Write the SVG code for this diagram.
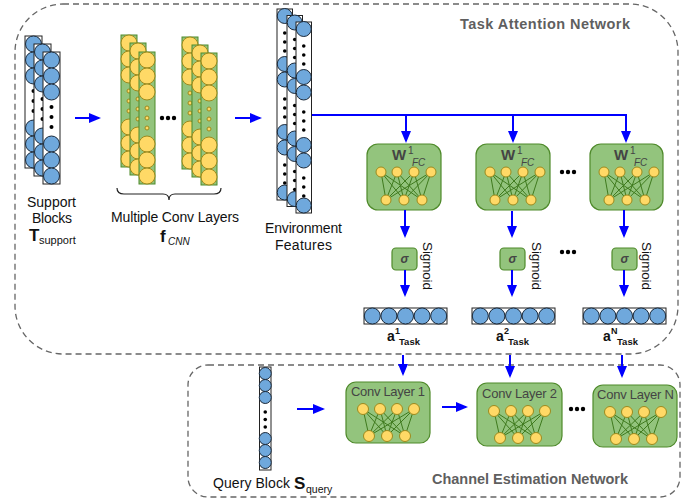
<svg xmlns="http://www.w3.org/2000/svg" xmlns:xlink="http://www.w3.org/1999/xlink" width="699" height="501" viewBox="0 0 699 501">
<style>
text{font-family:"Liberation Sans",Arial,sans-serif;fill:#111}
.frame{fill:none;stroke:#666;stroke-width:1.3;stroke-dasharray:6 4}
.ttl{font-weight:bold;font-size:14.5px;fill:#5f5f5f}
.lbl{font-size:14px}
.blk{fill:#fff;stroke:#222;stroke-width:1}
.bc{fill:#6fa8dc;stroke:#1c2a3a;stroke-width:1}
.gcol{fill:#93c47d;stroke:#4f8a2b;stroke-width:1}
.yc{fill:#ffd966;stroke:#9c8a1e;stroke-width:1}
.dot{fill:#000}
.gbox{fill:#93c47d;stroke:#4f8a2b;stroke-width:1.2}
.net{stroke:#3f7a1e;stroke-width:1;fill:none}
.arr{stroke:#0000ff;stroke-width:2;fill:none;marker-end:url(#ah)}
.ln{stroke:#0000ff;stroke-width:2;fill:none}
.sig{font-size:13.5px}
.gt{fill:#444}
</style>
<defs>
<marker id="ah" markerUnits="userSpaceOnUse" markerWidth="12" markerHeight="10" refX="10" refY="5" orient="auto">
<path d="M0,0 L12,5 L0,10 z" fill="#0000ff"/>
</marker>
<g id="supcol">
<rect class="blk" x="0" y="0" width="17" height="132"/>
<circle class="bc" cx="8.5" cy="8" r="8"/>
<circle class="bc" cx="8.5" cy="24" r="8"/>
<circle class="bc" cx="8.5" cy="40" r="8"/>
<circle class="dot" cx="8.5" cy="55" r="2"/>
<circle class="dot" cx="8.5" cy="65" r="2"/>
<circle class="dot" cx="8.5" cy="75" r="2"/>
<circle class="bc" cx="8.5" cy="92" r="8"/>
<circle class="bc" cx="8.5" cy="108" r="8"/>
<circle class="bc" cx="8.5" cy="124" r="8"/>
</g>
<g id="grcol">
<rect class="gcol" x="0" y="0" width="16" height="132"/>
<circle class="yc" cx="8" cy="8" r="8"/>
<circle class="yc" cx="8" cy="24" r="8"/>
<circle class="yc" cx="8" cy="40" r="8"/>
<circle class="yc" cx="8" cy="56" r="2"/>
<circle class="yc" cx="8" cy="66" r="2"/>
<circle class="yc" cx="8" cy="76" r="2"/>
<circle class="yc" cx="8" cy="92" r="8"/>
<circle class="yc" cx="8" cy="108" r="8"/>
<circle class="yc" cx="8" cy="124" r="8"/>
</g>
<g id="envcol">
<rect class="blk" x="0" y="0" width="15.5" height="191"/>
<circle class="bc" cx="7.75" cy="7" r="7.5"/>
<circle class="dot" cx="7.75" cy="24" r="1.8"/>
<circle class="dot" cx="7.75" cy="33" r="1.8"/>
<circle class="dot" cx="7.75" cy="42" r="1.8"/>
<circle class="bc" cx="7.75" cy="55" r="7.5"/>
<circle class="bc" cx="7.75" cy="70.5" r="7.5"/>
<circle class="dot" cx="7.75" cy="90" r="1.8"/>
<circle class="dot" cx="7.75" cy="99" r="1.8"/>
<circle class="dot" cx="7.75" cy="108" r="1.8"/>
<circle class="bc" cx="7.75" cy="123" r="7.5"/>
<circle class="bc" cx="7.75" cy="138.5" r="7.5"/>
<circle class="dot" cx="7.75" cy="156" r="1.8"/>
<circle class="dot" cx="7.75" cy="165" r="1.8"/>
<circle class="dot" cx="7.75" cy="174" r="1.8"/>
<circle class="bc" cx="7.75" cy="183.5" r="7.5"/>
</g>
<g id="fcnet">
<path class="net" d="M14,28 L19,56 M14,28 L37,56 M14,28 L55,56 M30,28 L19,56 M30,28 L37,56 M30,28 L55,56 M47,28 L19,56 M47,28 L37,56 M47,28 L55,56 M64,28 L19,56 M64,28 L37,56 M64,28 L55,56"/>
<circle class="yc" cx="14" cy="28" r="5"/>
<circle class="yc" cx="30" cy="28" r="5"/>
<circle class="yc" cx="47" cy="28" r="5"/>
<circle class="yc" cx="64" cy="28" r="5"/>
<circle class="yc" cx="19" cy="56" r="5"/>
<circle class="yc" cx="37" cy="56" r="5"/>
<circle class="yc" cx="55" cy="56" r="5"/>
</g>
<g id="convnet">
<path class="net" d="M17,27 L23,54 M17,27 L41,54 M17,27 L59,54 M34,27 L23,54 M34,27 L41,54 M34,27 L59,54 M51,27 L23,54 M51,27 L41,54 M51,27 L59,54 M68,27 L23,54 M68,27 L41,54 M68,27 L59,54"/>
<circle class="yc" cx="17" cy="27" r="5.5"/>
<circle class="yc" cx="34" cy="27" r="5.5"/>
<circle class="yc" cx="51" cy="27" r="5.5"/>
<circle class="yc" cx="68" cy="27" r="5.5"/>
<circle class="yc" cx="23" cy="54" r="5.5"/>
<circle class="yc" cx="41" cy="54" r="5.5"/>
<circle class="yc" cx="59" cy="54" r="5.5"/>
</g>
<g id="vec">
<rect class="blk" x="0" y="0" width="83" height="16"/>
<circle class="bc" cx="8.3" cy="8" r="8"/>
<circle class="bc" cx="24.9" cy="8" r="8"/>
<circle class="bc" cx="41.5" cy="8" r="8"/>
<circle class="bc" cx="58.1" cy="8" r="8"/>
<circle class="bc" cx="74.7" cy="8" r="8"/>
</g>
<g id="dots3">
<circle class="dot" cx="-6" cy="0" r="2.2"/>
<circle class="dot" cx="0" cy="0" r="2.2"/>
<circle class="dot" cx="6" cy="0" r="2.2"/>
</g>
</defs>

<g id="frames">
<rect class="frame" x="15" y="4" width="663" height="350" rx="48" ry="48"/>
<rect class="frame" x="188" y="365" width="492" height="132" rx="20" ry="20"/>
<text class="ttl" x="460" y="29" textLength="170">Task Attention Network</text>
<text class="ttl" x="432" y="484" textLength="196">Channel Estimation Network</text>
</g>

<g id="support-blocks">
<use xlink:href="#supcol" x="25" y="36"/>
<use xlink:href="#supcol" x="34" y="44"/>
<use xlink:href="#supcol" x="43" y="52"/>
<text class="lbl" x="27" y="207" textLength="49">Support</text>
<text class="lbl" x="32" y="223" textLength="40">Blocks</text>
<text x="29" y="241" style="font-weight:bold;font-size:17px">T</text>
<text x="39" y="244" style="font-size:11px">support</text>
</g>

<g id="conv-layers">
<use xlink:href="#grcol" x="121" y="35"/>
<use xlink:href="#grcol" x="130" y="43"/>
<use xlink:href="#grcol" x="139" y="52"/>
<use xlink:href="#grcol" x="182" y="37"/>
<use xlink:href="#grcol" x="192" y="45"/>
<use xlink:href="#grcol" x="201" y="53"/>
<use xlink:href="#dots3" x="168" y="118"/>
<path d="M117,188 Q117,194 124,194 H163 Q169,194 169,200 Q169,194 175,194 H214 Q221,194 221,188" fill="none" stroke="#222" stroke-width="1.2"/>
<text x="111" y="222" textLength="128" style="font-size:14px">Multiple Conv Layers</text>
<text x="160" y="242" style="font-weight:bold;font-size:17px">f</text>
<text x="168" y="245" style="font-size:10px;font-style:italic">CNN</text>
</g>

<g id="environment-features">
<use xlink:href="#envcol" x="277" y="9"/>
<use xlink:href="#envcol" x="287" y="15.5"/>
<use xlink:href="#envcol" x="296" y="22"/>
<text class="lbl" x="265" y="233" textLength="77">Environment</text>
<text class="lbl" x="275" y="250" textLength="57">Features</text>
</g>

<g id="fc1">
<rect class="gbox" x="367" y="144" width="74" height="66" rx="11"/>
<use xlink:href="#fcnet" x="367" y="144"/>
<text class="gt" x="392" y="160" style="font-weight:bold;font-size:15px">W</text>
<text class="gt" x="408" y="154" style="font-size:10px">1</text>
<text class="gt" x="412" y="166" style="font-size:10px;font-style:italic">FC</text>
</g>
<g id="fc2">
<rect class="gbox" x="476" y="144" width="74" height="66" rx="11"/>
<use xlink:href="#fcnet" x="476" y="144"/>
<text class="gt" x="501" y="160" style="font-weight:bold;font-size:15px">W</text>
<text class="gt" x="517" y="154" style="font-size:10px">1</text>
<text class="gt" x="521" y="166" style="font-size:10px;font-style:italic">FC</text>
</g>
<g id="fc3">
<rect class="gbox" x="590" y="144" width="73" height="66" rx="11"/>
<use xlink:href="#fcnet" x="590" y="144"/>
<text class="gt" x="614" y="160" style="font-weight:bold;font-size:15px">W</text>
<text class="gt" x="630" y="154" style="font-size:10px">1</text>
<text class="gt" x="634" y="166" style="font-size:10px;font-style:italic">FC</text>
</g>
<use xlink:href="#dots3" x="568" y="172"/>

<g id="sig1">
<rect class="gbox" x="392" y="248" width="25" height="22" rx="4"/>
<text x="404.5" y="263" text-anchor="middle" style="font-weight:bold;font-style:italic;font-size:12px" class="gt">σ</text>
<text class="sig" transform="translate(423,242) rotate(90)" textLength="48">Sigmoid</text>
</g>
<g id="sig2">
<rect class="gbox" x="500" y="248" width="25" height="22" rx="4"/>
<text x="512.5" y="263" text-anchor="middle" style="font-weight:bold;font-style:italic;font-size:12px" class="gt">σ</text>
<text class="sig" transform="translate(532,242) rotate(90)" textLength="48">Sigmoid</text>
</g>
<g id="sig3">
<rect class="gbox" x="612" y="248" width="25" height="22" rx="4"/>
<text x="624.5" y="263" text-anchor="middle" style="font-weight:bold;font-style:italic;font-size:12px" class="gt">σ</text>
<text class="sig" transform="translate(642,242) rotate(90)" textLength="48">Sigmoid</text>
</g>
<use xlink:href="#dots3" x="568" y="252"/>

<g id="a1">
<use xlink:href="#vec" x="364" y="308"/>
<text x="387" y="341" style="font-weight:bold;font-size:14px">a</text>
<text x="395" y="334" style="font-weight:bold;font-size:9px">1</text>
<text x="399" y="345" style="font-weight:bold;font-size:9.5px">Task</text>
</g>
<g id="a2">
<use xlink:href="#vec" x="472" y="308"/>
<text x="496" y="341" style="font-weight:bold;font-size:14px">a</text>
<text x="504" y="334" style="font-weight:bold;font-size:9px">2</text>
<text x="508" y="345" style="font-weight:bold;font-size:9.5px">Task</text>
</g>
<g id="aN">
<use xlink:href="#vec" x="583" y="308"/>
<text x="603" y="341" style="font-weight:bold;font-size:14px">a</text>
<text x="611" y="334" style="font-weight:bold;font-size:9px">N</text>
<text x="617" y="345" style="font-weight:bold;font-size:9.5px">Task</text>
</g>

<g id="query-block">
<rect class="blk" x="259.5" y="367" width="11.5" height="103"/>
<circle class="bc" cx="265.25" cy="373.5" r="6"/>
<circle class="bc" cx="265.25" cy="385.5" r="6"/>
<circle class="bc" cx="265.25" cy="397.5" r="6"/>
<circle class="dot" cx="265.25" cy="412" r="1.8"/>
<circle class="dot" cx="265.25" cy="419.5" r="1.8"/>
<circle class="dot" cx="265.25" cy="427" r="1.8"/>
<circle class="bc" cx="265.25" cy="438.5" r="6"/>
<circle class="bc" cx="265.25" cy="450.5" r="6"/>
<circle class="bc" cx="265.25" cy="462.5" r="6"/>
<text class="lbl" x="213" y="488" textLength="77">Query Block</text>
<text x="294" y="489" style="font-weight:bold;font-size:17px">S</text>
<text x="306" y="493" style="font-size:10.5px">query</text>
</g>

<g id="conv1">
<rect class="gbox" x="346" y="382" width="84" height="61" rx="10"/>
<use xlink:href="#convnet" x="346" y="382"/>
<text class="gt" x="351" y="396" textLength="74" style="font-size:13px">Conv Layer 1</text>
</g>
<g id="conv2">
<rect class="gbox" x="477" y="383" width="85" height="63" rx="10"/>
<use xlink:href="#convnet" x="477" y="384"/>
<text class="gt" x="482" y="398" textLength="75" style="font-size:13px">Conv Layer 2</text>
</g>
<g id="convN">
<rect class="gbox" x="593" y="385" width="84" height="62" rx="10"/>
<use xlink:href="#convnet" x="593" y="385"/>
<text class="gt" x="597" y="399" textLength="77" style="font-size:13px">Conv Layer N</text>
</g>
<use xlink:href="#dots3" x="577" y="409"/>

<g id="connectors">
<line class="arr" x1="75" y1="118" x2="99" y2="118"/>
<line class="arr" x1="235" y1="118" x2="260" y2="118"/>
<path class="ln" d="M312,115 H627"/>
<line class="arr" x1="406" y1="115" x2="406" y2="141"/>
<line class="arr" x1="513" y1="115" x2="513" y2="141"/>
<line class="arr" x1="626" y1="115" x2="626" y2="141"/>
<line class="arr" x1="405" y1="210" x2="405" y2="236"/>
<line class="arr" x1="512" y1="211" x2="512" y2="236"/>
<line class="arr" x1="624" y1="210" x2="624" y2="236"/>
<line class="arr" x1="405" y1="270" x2="405" y2="295"/>
<line class="arr" x1="512" y1="270" x2="512" y2="295"/>
<line class="arr" x1="624" y1="270" x2="624" y2="295"/>
<line class="arr" x1="403" y1="355" x2="403" y2="374"/>
<line class="arr" x1="510" y1="355" x2="510" y2="376"/>
<line class="arr" x1="622" y1="355" x2="622" y2="376"/>
<line class="arr" x1="297" y1="409" x2="323" y2="409"/>
<line class="arr" x1="442" y1="407" x2="466" y2="407"/>
</g>
</svg>
